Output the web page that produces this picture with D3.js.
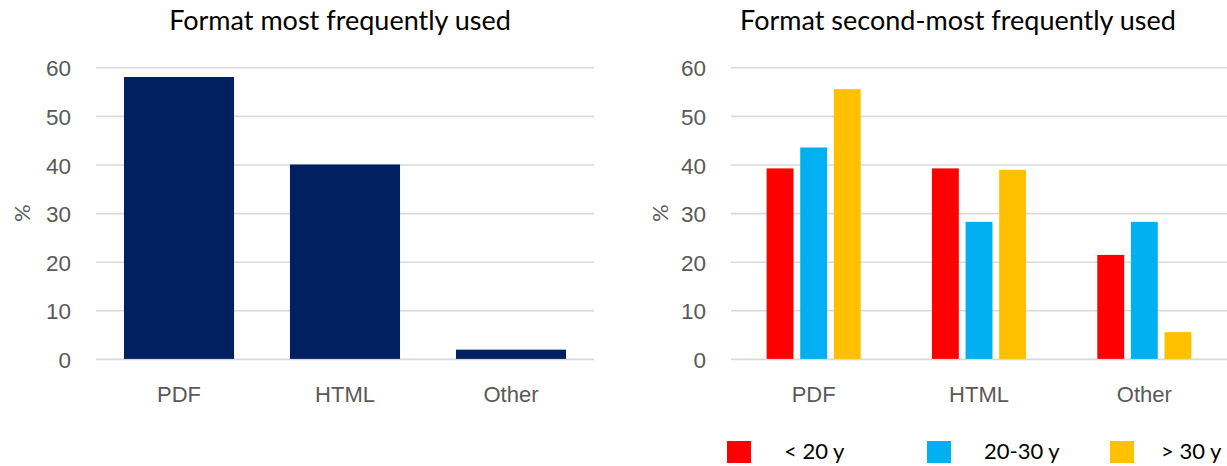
<!DOCTYPE html>
<html>
<head>
<meta charset="utf-8">
<script src="https://cdn.jsdelivr.net/npm/d3@7"></script>
<style>
  html, body { margin: 0; padding: 0; background: #fff; }
  svg { display: block; font-family: Lato, "Open Sans", sans-serif; }
  .grid line { stroke: #D9D9D9; stroke-width: 1.6; }
  .grid .domain { display: none; }
  .ytick text { fill: #595959; font-size: 22.5px; }
  .xlab .domain, .xlab line { display: none; }
  .xlab text { fill: #595959; font-size: 22px; }
  .title { fill: #000; font-size: 27px; }
  .ytitle { fill: #595959; font-size: 22px; }
  .legend text { fill: #000; font-size: 22px; }
</style>
</head>
<body>
<svg id="chart" width="1227" height="466"></svg>
<script>
// Survey results: preferred document formats (%)
const categories = ["PDF", "HTML", "Other"];
const mostUsed = [58, 40, 1.9];

const ageGroups = ["< 20 y", "20-30 y", "> 30 y"];
const secondUnder20 = [39.2, 39.2, 21.4];
const second20to30 = [43.5, 28.2, 28.2];
const secondOver30 = [55.5, 38.9, 5.5];

const yTicks = [0, 10, 20, 30, 40, 50, 60];

const navy = "#002060";
const groupColors = ["#FF0000", "#00B0F0", "#FFC000"];

const svg = d3.select("#chart");

// Shared vertical scale
const y = d3.scaleLinear().domain([0, 60]).range([358.9, 67.3]);

function drawFrame(x0, x1, title, titleX, yTitleX) {
  const g = svg.append("g");
  g.append("g")
    .attr("class", "grid ytick")
    .attr("transform", `translate(${x0},0)`)
    .call(d3.axisLeft(y).tickValues(yTicks).tickSizeInner(-(x1 - x0)).tickSizeOuter(0).tickPadding(25))
    .call(s => s.selectAll("text").attr("dy", "0.38em"));
  g.append("text")
    .attr("class", "title")
    .attr("x", titleX).attr("y", 30)
    .attr("text-anchor", "middle")
    .text(title);
  g.append("text")
    .attr("class", "ytitle")
    .attr("transform", `translate(${yTitleX},${y(30)}) rotate(-90)`)
    .attr("text-anchor", "middle")
    .attr("dy", "0.36em")
    .text("%");
  return g;
}

function drawXLabels(g, x) {
  g.append("g")
    .attr("class", "xlab")
    .attr("transform", `translate(0,${y(0)})`)
    .call(d3.axisBottom(x).tickSize(0).tickPadding(27));
}

// ---- Left: format most frequently used ----
{
  const left = 96, right = 594;
  const x = d3.scaleBand().domain(categories).range([left, right])
    .paddingInner(0.337).paddingOuter(0.1685);
  const g = drawFrame(left, right, "Format most frequently used", 340, 22);
  g.append("g").selectAll("rect")
    .data(categories.map((c, i) => ({ c, v: mostUsed[i] })))
    .join("rect")
    .attr("x", d => x(d.c))
    .attr("width", x.bandwidth())
    .attr("y", d => y(d.v))
    .attr("height", d => y(0) - y(d.v))
    .attr("fill", navy);
  drawXLabels(g, x);
}

// ---- Right: format second-most frequently used, by age ----
{
  const left = 731, right = 1227;
  const x0 = d3.scaleBand().domain(categories).range([left, right])
    .paddingInner(0.431).paddingOuter(0.2155);
  const x1 = d3.scaleBand().domain(ageGroups).range([0, x0.bandwidth()])
    .paddingInner(0.2).paddingOuter(0);
  const color = d3.scaleOrdinal().domain(ageGroups).range(groupColors);
  const series = [secondUnder20, second20to30, secondOver30];
  const g = drawFrame(left, right, "Format second-most frequently used", 958, 660);
  g.append("g").selectAll("g")
    .data(categories)
    .join("g")
    .attr("transform", c => `translate(${x0(c)},0)`)
    .selectAll("rect")
    .data((c, ci) => ageGroups.map((a, ai) => ({ a, v: series[ai][ci] })))
    .join("rect")
    .attr("x", d => x1(d.a))
    .attr("width", x1.bandwidth())
    .attr("y", d => y(d.v))
    .attr("height", d => y(0) - y(d.v))
    .attr("fill", d => color(d.a));
  drawXLabels(g, x0);

  // Legend: swatch position and label offset per entry
  const legendLayout = [
    { swatch: 727, label: 57 },
    { swatch: 927, label: 57 },
    { swatch: 1110, label: 51 }
  ];
  const lg = svg.append("g").attr("class", "legend");
  const item = lg.selectAll("g").data(ageGroups).join("g")
    .attr("transform", (d, i) => `translate(${legendLayout[i].swatch},441)`);
  item.append("rect").attr("width", 24).attr("height", 22).attr("fill", d => color(d));
  item.append("text")
    .attr("x", (d, i) => legendLayout[i].label)
    .attr("y", 18)
    .text(d => d);
}
</script>
</body>
</html>
